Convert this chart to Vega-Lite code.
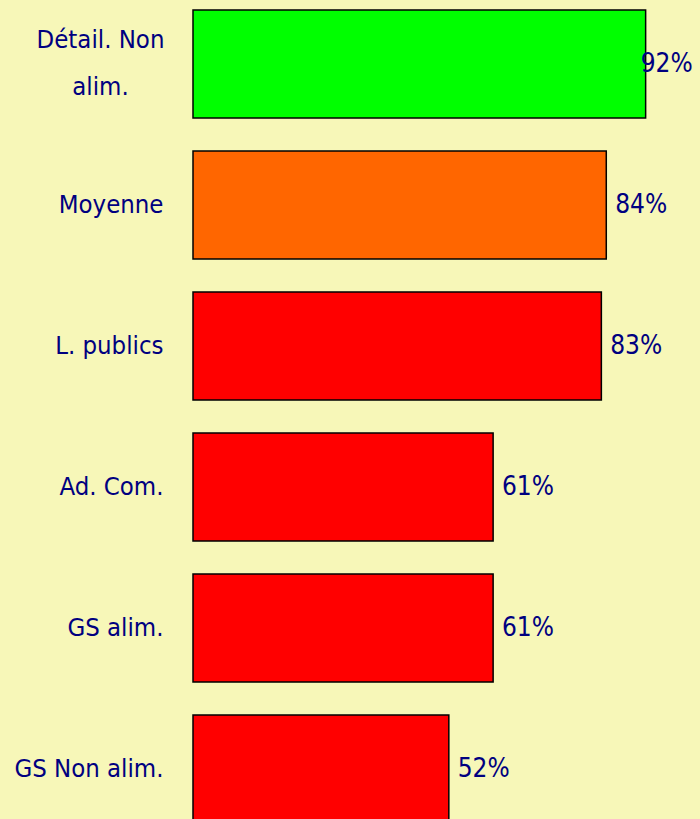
{
  "$schema": "https://vega.github.io/schema/vega-lite/v6.json",
  "autosize": {"type": "none"},
  "padding": {"left": 193, "top": 0, "right": 15, "bottom": 0},
  "width": 492,
  "height": 833,
  "background": "#f7f7b8",
  "config": {"view": {"stroke": null}, "font": "DejaVu Sans Condensed"},
  "data": {
    "values": [
      {"secteur": "Détail. Non alim.", "valeur": 92, "groupe": "Au-dessus"},
      {"secteur": "Moyenne", "valeur": 84, "groupe": "Moyenne"},
      {"secteur": "L. publics", "valeur": 83, "groupe": "En dessous"},
      {"secteur": "Ad. Com.", "valeur": 61, "groupe": "En dessous"},
      {"secteur": "GS alim.", "valeur": 61, "groupe": "En dessous"},
      {"secteur": "GS Non alim.", "valeur": 52, "groupe": "En dessous"}
    ]
  },
  "transform": [
    {"calculate": "datum.valeur + '%'", "as": "etiquette"},
    {"calculate": "min(datum.valeur + 1.8, 91)", "as": "pos"}
  ],
  "encoding": {
    "y": {
      "field": "secteur",
      "type": "nominal",
      "sort": null,
      "scale": {"paddingInner": 0.234, "paddingOuter": 0.071},
      "axis": {
        "title": null,
        "domain": false,
        "ticks": false,
        "labelPadding": {"condition": {"test": "datum.label == 'Détail. Non alim.'", "value": 93}, "value": 30},
        "labelAlign": {"condition": {"test": "datum.label == 'Détail. Non alim.'", "value": "center"}, "value": "right"},
        "labelOffset": {"condition": {"test": "datum.label == 'Détail. Non alim.'", "value": -24}, "value": 0},
        "labelFontSize": 25.5,
        "labelColor": "#000080",
        "labelFont": "DejaVu Sans Condensed",
        "labelLineHeight": 47,
        "labelLimit": 300,
        "labelExpr": "datum.label == 'Détail. Non alim.' ? ['Détail. Non', 'alim.'] : datum.label"
      }
    }
  },
  "layer": [
    {
      "mark": {"type": "bar", "stroke": "#000000", "strokeWidth": 1.5},
      "encoding": {
        "x": {"field": "valeur", "type": "quantitative", "scale": {"domain": [0, 100]}, "axis": null},
        "color": {
          "field": "groupe",
          "type": "nominal",
          "scale": {"domain": ["Au-dessus", "Moyenne", "En dessous"], "range": ["#00ff00", "#ff6600", "#ff0000"]},
          "legend": null
        }
      }
    },
    {
      "mark": {"type": "text", "align": "left", "baseline": "middle", "fontSize": 26, "color": "#000080", "font": "DejaVu Sans Condensed"},
      "encoding": {
        "x": {"field": "pos", "type": "quantitative", "scale": {"domain": [0, 100]}, "axis": null},
        "text": {"field": "etiquette"}
      }
    }
  ]
}
